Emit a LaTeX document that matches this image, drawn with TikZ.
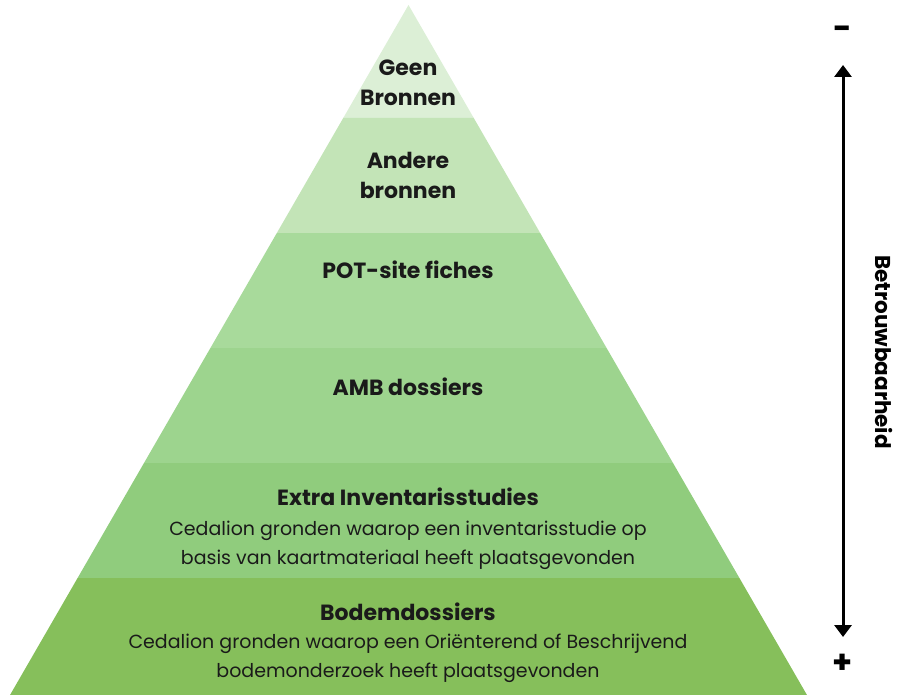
\documentclass[tikz,border=0pt]{standalone}
\usepackage{fontspec}
\setmainfont{Poppins}
\usetikzlibrary{arrows.meta}
\definecolor{c1}{HTML}{DCEFD6}
\definecolor{c2}{HTML}{C3E4B7}
\definecolor{c3}{HTML}{A8DA9B}
\definecolor{c4}{HTML}{9DD48E}
\definecolor{c5}{HTML}{90CC7D}
\definecolor{c6}{HTML}{86BF5B}
\definecolor{ink}{HTML}{1A1A1A}
\begin{document}
\begin{tikzpicture}[x=1pt,y=-1pt,
  ttl/.style={font=\fontsize{22}{30}\selectfont\bfseries, text=ink, align=center, inner sep=0pt},
  body/.style={font=\fontsize{19}{29}\selectfont, text=ink, align=center, inner sep=0pt},
  sign/.style={font=\fontsize{32}{32}\selectfont\bfseries, text=black, inner sep=0pt}]
\useasboundingbox (0,0) rectangle (899,695);
\def\cx{408.5}
\def\sl{0.5775}
\foreach \ya/\yb/\c in {5/118/c1,118/233/c2,233/348/c3,348/463/c4,463/578/c5,578/695/c6}{
  \fill[\c] ({\cx-\sl*(\ya-5)},\ya) -- ({\cx+\sl*(\ya-5)},\ya) -- ({\cx+\sl*(\yb-5)},\yb) -- ({\cx-\sl*(\yb-5)},\yb) -- cycle;
}
\node[ttl] (geen) at (408,83) {Geen\\Bronnen};
\node[ttl] (andere) at (408,175) {Andere\\bronnen};
\node[ttl] (pot) at (408,270) {POT-site fiches};
\node[ttl] (amb) at (408,387) {AMB dossiers};
\node[ttl] (extra) at (408,497) {Extra Inventarisstudies};
\node[body] (extrab) at (408,545) {Cedalion gronden waarop een inventarisstudie op\\basis van kaartmateriaal heeft plaatsgevonden};
\node[ttl] (bodem) at (408,612) {Bodemdossiers};
\node[body] (bodemb) at (408,658) {Cedalion gronden waarop een Oriënterend of Beschrijvend\\bodemonderzoek heeft plaatsgevonden};
\coordinate (atop) at (843,65);
\coordinate (abot) at (843,637);
\draw[line width=3pt, {Triangle[width=17pt,length=12pt]}-{Triangle[width=17pt,length=12pt]}] (atop) -- (abot);
\node[sign] (minus) at (843,33) {-};
\node[sign] (plus) at (843,664) {+};
\node[font=\fontsize{21.5}{21.5}\selectfont\bfseries, rotate=-90, inner sep=0pt] (betr) at (884,352) {Betrouwbaarheid};
\end{tikzpicture}
\end{document}
